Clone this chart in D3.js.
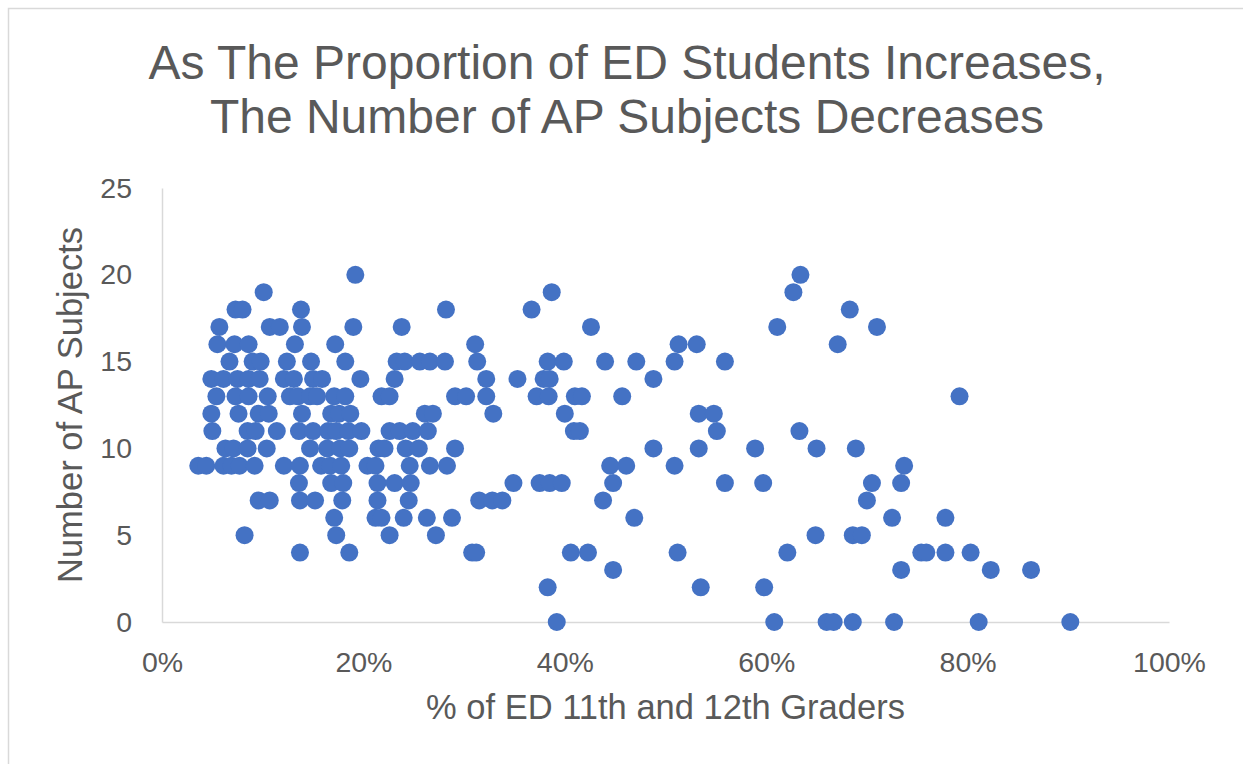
<!DOCTYPE html>
<html lang="en">
<head>
<meta charset="UTF-8">
<title>ED students vs AP subjects</title>
<script src="https://d3js.org/d3.v7.min.js"></script>
<style>
    body { margin: 0; background: #fff; }
    svg text { font-family: "Liberation Sans", Arial, sans-serif; fill: #595959; }
</style>
</head>
<body>
<div id="chart"></div>
<script>
    // % of ED 11th/12th graders for each school, grouped by number of AP subjects offered
    var ap20 = [19.2, 63.4];
    var ap19 = [10.1, 38.7, 62.7];
    var ap18 = [7.3, 8.0, 13.8, 28.2, 36.7, 68.3];
    var ap17 = [5.7, 10.7, 11.7, 13.9, 19.0, 23.8, 42.6, 61.1, 71.0];
    var ap16 = [5.5, 7.2, 8.6, 13.2, 17.2, 31.1, 51.3, 53.1, 67.1];
    var ap15 = [6.7, 9.0, 9.8, 12.4, 14.8, 18.2, 23.3, 24.1, 25.6, 26.6, 28.1, 31.3, 38.3, 39.9, 44.0, 47.1, 50.9, 55.9];
    var ap14 = [4.9, 6.1, 7.5, 8.6, 9.7, 12.1, 13.1, 15.0, 15.9, 19.7, 23.1, 32.2, 35.3, 37.9, 38.5, 48.8];
    var ap13 = [5.4, 7.3, 8.6, 10.5, 12.7, 13.5, 14.7, 15.4, 17.1, 18.2, 21.8, 22.6, 29.1, 30.2, 32.2, 37.2, 38.4, 41.0, 41.7, 45.7, 79.2];
    var ap12 = [4.9, 7.6, 9.6, 10.6, 13.9, 16.8, 17.6, 18.7, 26.1, 26.9, 32.9, 40.0, 53.3, 54.8];
    var ap11 = [5.0, 8.5, 9.3, 11.4, 13.6, 15.0, 16.5, 17.3, 18.5, 19.8, 22.6, 23.6, 24.9, 26.4, 40.9, 41.5, 55.1, 63.3];
    var ap10 = [6.3, 7.1, 8.5, 10.4, 14.7, 16.4, 17.7, 18.6, 21.5, 22.1, 24.2, 25.5, 29.1, 48.8, 53.3, 58.9, 65.0, 68.9];
    var ap9 = [3.6, 4.4, 6.1, 6.9, 7.7, 9.2, 12.1, 13.7, 15.8, 16.7, 17.8, 20.4, 21.2, 24.6, 26.6, 28.3, 44.5, 46.1, 50.9, 73.7];
    var ap8 = [13.6, 16.8, 18.0, 21.4, 23.1, 24.7, 34.9, 37.5, 38.5, 39.7, 44.8, 55.9, 59.7, 70.5, 73.4];
    var ap7 = [9.6, 10.7, 13.7, 15.2, 17.9, 21.4, 24.5, 31.5, 32.8, 33.8, 43.8, 70.0];
    var ap6 = [17.1, 21.2, 21.8, 24.0, 26.3, 28.8, 46.9, 72.5, 77.8];
    var ap5 = [8.2, 17.3, 22.6, 27.2, 64.9, 68.6, 69.5];
    var ap4 = [13.7, 18.6, 30.8, 31.2, 40.6, 42.3, 51.2, 62.1, 75.4, 75.9, 77.8, 80.3];
    var ap3 = [44.8, 73.4, 82.3, 86.3];
    var ap2 = [38.3, 53.5, 59.8];
    var ap0 = [39.2, 60.8, 66.0, 66.7, 68.6, 72.7, 81.1, 90.2];

    var apLevels = [20, 19, 18, 17, 16, 15, 14, 13, 12, 11, 10, 9, 8, 7, 6, 5, 4, 3, 2, 0];
    var apGroups = [ap20, ap19, ap18, ap17, ap16, ap15, ap14, ap13, ap12, ap11, ap10, ap9, ap8, ap7, ap6, ap5, ap4, ap3, ap2, ap0];

    var xTicks = [0, 20, 40, 60, 80, 100];
    var yTicks = [0, 5, 10, 15, 20, 25];

    var titleLines = ["As The Proportion of ED Students Increases,", "The Number of AP Subjects Decreases"];
    var xTitle = "% of ED 11th and 12th Graders";
    var yTitle = "Number of AP Subjects";

    var points = [];
    apGroups.forEach(function (g, i) {
        g.forEach(function (p) { points.push({ pct: p, ap: apLevels[i] }); });
    });

    var width = 1243, height = 764;
    var plotLeft = 162, plotRight = 1169, plotTop = 188, plotBottom = 622;

    var svg = d3.select("#chart").append("svg")
        .attr("width", width)
        .attr("height", height);

    // chart area frame
    svg.append("rect")
        .attr("x", 8.5).attr("y", 8.5)
        .attr("width", width + 20).attr("height", height + 20)
        .attr("fill", "none")
        .attr("stroke", "#d9d9d9")
        .attr("stroke-width", 1.5);

    var x = d3.scaleLinear().domain([0, 100]).range([plotLeft, plotRight]);
    var y = d3.scaleLinear().domain([0, 25]).range([plotBottom, plotTop]);

    var xAxis = svg.append("g")
        .attr("transform", "translate(0," + plotBottom + ")")
        .call(d3.axisBottom(x).tickValues(xTicks).tickSize(0).tickPadding(30)
            .tickFormat(function (d) { return d + "%"; }));

    var yAxis = svg.append("g")
        .attr("transform", "translate(" + plotLeft + ",0)")
        .call(d3.axisLeft(y).tickValues(yTicks).tickSize(0).tickPadding(30));

    [xAxis, yAxis].forEach(function (a) {
        a.select(".domain").attr("stroke", "#d9d9d9").attr("stroke-width", 1.5);
        a.selectAll("text")
            .style("font-family", '"Liberation Sans", Arial, sans-serif')
            .style("font-size", "28.5px")
            .attr("fill", "#595959");
    });

    svg.append("g")
        .selectAll("circle")
        .data(points)
        .join("circle")
        .attr("cx", function (d) { return x(d.pct); })
        .attr("cy", function (d) { return y(d.ap); })
        .attr("r", 9)
        .attr("fill", "#4472c4");

    svg.selectAll(".title")
        .data(titleLines)
        .join("text")
        .attr("class", "title")
        .attr("x", 627)
        .attr("y", function (d, i) { return 79 + i * 54; })
        .attr("text-anchor", "middle")
        .style("font-size", "48px")
        .text(function (d) { return d; });

    svg.append("text")
        .attr("x", (plotLeft + plotRight) / 2)
        .attr("y", 719)
        .attr("text-anchor", "middle")
        .style("font-size", "34.5px")
        .text(xTitle);

    svg.append("text")
        .attr("transform", "translate(82," + (plotTop + plotBottom) / 2 + ") rotate(-90)")
        .attr("text-anchor", "middle")
        .style("font-size", "34.5px")
        .text(yTitle);
</script>
</body>
</html>
